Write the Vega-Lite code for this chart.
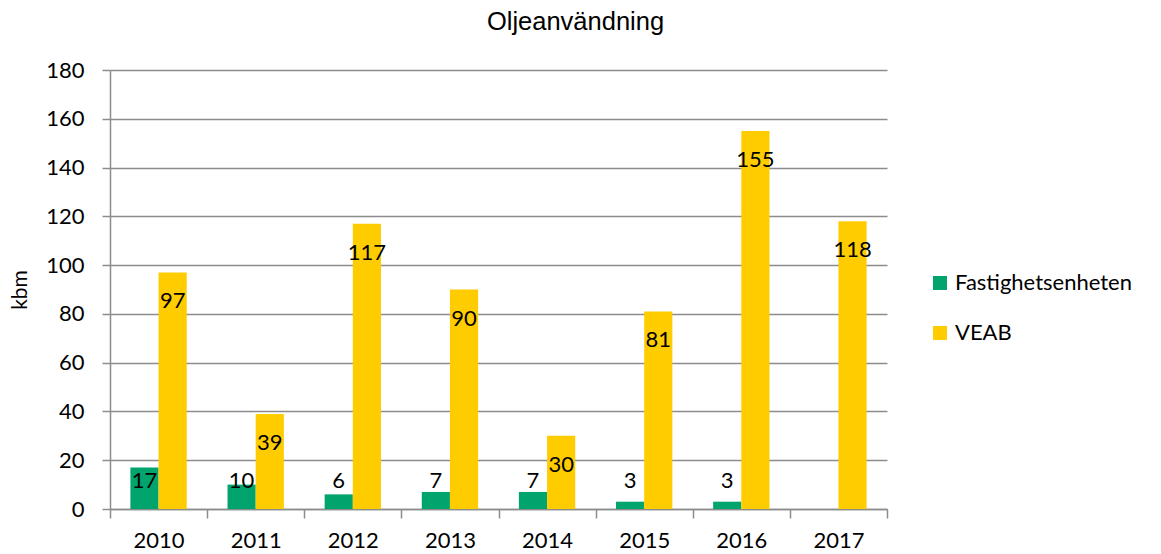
{
  "$schema": "https://vega.github.io/schema/vega-lite/v6.json",
  "width": 777,
  "height": 439,
  "autosize": {"type": "none"},
  "padding": {"left": 110, "top": 70, "right": 274, "bottom": 45},
  "background": "white",
  "title": {
    "text": "Oljeanvändning",
    "font": "Liberation Sans",
    "fontSize": 25.5,
    "fontWeight": "normal",
    "color": "black",
    "anchor": "middle",
    "dx": 77,
    "offset": 24
  },
  "config": {
    "view": {"stroke": null},
    "axis": {"labelFont": "Lato", "labelFontSize": 22, "labelColor": "black", "domainColor": "#8c8c8c", "tickColor": "#8c8c8c", "domainWidth": 1.5, "tickWidth": 1.5}
  },
  "data": {
    "values": [
      {"year": "2010", "series": "Fastighetsenheten", "value": 17},
      {"year": "2010", "series": "VEAB", "value": 97},
      {"year": "2011", "series": "Fastighetsenheten", "value": 10},
      {"year": "2011", "series": "VEAB", "value": 39},
      {"year": "2012", "series": "Fastighetsenheten", "value": 6},
      {"year": "2012", "series": "VEAB", "value": 117},
      {"year": "2013", "series": "Fastighetsenheten", "value": 7},
      {"year": "2013", "series": "VEAB", "value": 90},
      {"year": "2014", "series": "Fastighetsenheten", "value": 7},
      {"year": "2014", "series": "VEAB", "value": 30},
      {"year": "2015", "series": "Fastighetsenheten", "value": 3},
      {"year": "2015", "series": "VEAB", "value": 81},
      {"year": "2016", "series": "Fastighetsenheten", "value": 3},
      {"year": "2016", "series": "VEAB", "value": 155},
      {"year": "2017", "series": "VEAB", "value": 118}
    ]
  },
  "encoding": {
    "x": {
      "field": "year",
      "type": "nominal",
      "scale": {"paddingInner": 0, "paddingOuter": 0},
      "axis": {"title": null, "labelAngle": 0, "tickBand": "extent", "tickSize": 9, "labelPadding": 12, "grid": false}
    },
    "xOffset": {"field": "series", "type": "nominal", "sort": ["Fastighetsenheten", "VEAB"], "scale": {"paddingInner": 0, "paddingOuter": 0.724}}
  },
  "layer": [
    {
      "mark": {"type": "bar", "strokeWidth": 0},
      "encoding": {
        "y": {
          "field": "value",
          "type": "quantitative",
          "scale": {"domain": [0, 180]},
          "axis": {
            "values": [0, 20, 40, 60, 80, 100, 120, 140, 160, 180],
            "title": "kbm",
            "titleFont": "Lato",
            "titleFontSize": 21,
            "titleFontWeight": "normal",
            "titleColor": "black",
            "titleX": -90,
            "titleBaseline": "middle",
            "tickSize": 8,
            "labelPadding": 18,
            "grid": true,
            "gridColor": "#8c8c8c",
            "gridWidth": 1.5
          }
        },
        "color": {
          "field": "series",
          "type": "nominal",
          "scale": {"domain": ["Fastighetsenheten", "VEAB"], "range": ["#02A46E", "#FFCC00"]},
          "legend": {
            "orient": "none",
            "legendX": 819,
            "legendY": 202,
            "title": null,
            "symbolType": "square",
            "symbolSize": 196,
            "symbolStrokeWidth": 0,
            "labelFont": "Lato",
            "labelFontSize": 22,
            "labelColor": "black",
            "labelLimit": 400,
            "rowPadding": 28,
            "labelOffset": 4
          }
        }
      }
    },
    {
      "transform": [{"filter": "datum.series == 'VEAB'"}],
      "mark": {"type": "text", "dy": 29, "font": "Lato", "fontSize": 22, "baseline": "middle", "color": "black"},
      "encoding": {
        "y": {"field": "value", "type": "quantitative"},
        "text": {"field": "value", "type": "quantitative"}
      }
    },
    {
      "transform": [{"filter": "datum.series == 'Fastighetsenheten'"}],
      "mark": {"type": "text", "font": "Lato", "fontSize": 22, "baseline": "middle", "color": "black"},
      "encoding": {
        "y": {"datum": 11.5, "type": "quantitative"},
        "text": {"field": "value", "type": "quantitative"}
      }
    }
  ]
}
